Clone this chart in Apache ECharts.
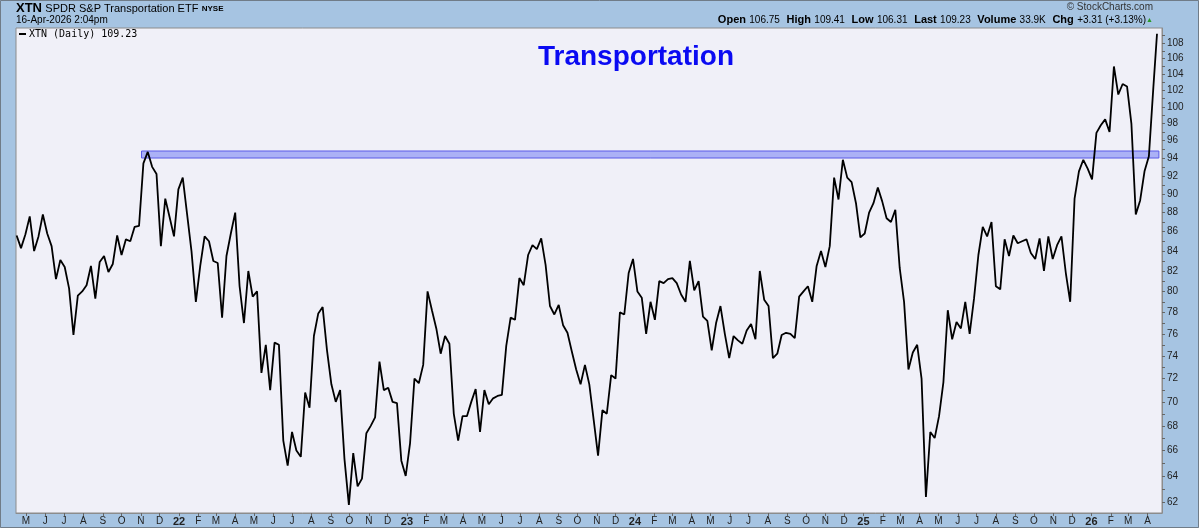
<!DOCTYPE html>
<html>
<head>
<meta charset="utf-8">
<script src="https://cdn.jsdelivr.net/npm/echarts@6/dist/echarts.min.js"></script>
<style>
html,body{margin:0;padding:0;background:#a6c4e2;}
#chart{width:1199px;height:528px;}
</style>
</head>
<body>
<div id="chart"></div>
<script>
// ---- data (weekly closes, Fridays from firstWeek) ----
const firstWeek = '2021-04-16';
const closes = [
85.6,84.3,85.7,87.6,84.0,85.5,87.8,85.8,84.5,81.2,
83.1,82.4,80.3,75.9,79.6,80.0,80.6,82.5,79.3,82.9,
83.5,81.9,82.7,85.6,83.6,85.2,85.0,86.5,86.6,93.4,
94.7,93.0,92.2,84.5,89.5,87.5,85.5,90.5,91.8,87.8,
84.0,79.0,82.5,85.5,85.0,83.0,82.8,77.5,83.5,85.8,
88.0,80.5,77.0,82.0,79.5,80.0,72.5,75.0,71.0,75.2,
75.0,66.8,64.8,67.5,66.0,65.5,70.8,69.5,75.8,77.9,
78.5,74.5,71.5,70.0,71.0,65.3,61.8,65.8,63.2,63.8,
67.4,68.0,68.7,73.5,71.0,71.2,70.0,69.9,65.2,64.0,
66.6,72.0,71.6,73.2,80.0,78.2,76.5,74.2,75.8,75.1,
69.0,66.8,68.8,68.8,70.0,71.1,67.5,71.0,69.8,70.3,
70.5,70.6,74.9,77.5,77.3,81.3,80.6,83.6,84.6,84.2,
85.3,82.6,78.6,77.8,78.7,76.8,76.1,74.4,72.8,71.5,
73.2,71.5,68.5,65.6,69.3,69.0,72.3,72.0,78.0,77.8,
81.8,83.2,80.0,79.4,76.0,79.0,77.3,81.0,80.8,81.2,
81.3,80.8,79.7,79.0,83.0,80.1,81.0,77.6,77.2,74.5,
77.0,78.6,76.0,73.8,75.8,75.4,75.1,76.3,76.9,75.5,
82.0,79.2,78.6,73.8,74.2,75.9,76.1,76.0,75.6,79.5,
80.0,80.5,79.0,82.5,84.0,82.4,84.5,91.8,89.4,93.8,
91.8,91.3,89.0,85.4,85.8,88.0,89.0,90.7,89.2,87.4,
87.0,88.3,82.3,79.0,72.8,74.3,75.0,72.0,62.4,67.5,
67.0,68.8,71.7,78.2,75.5,77.1,76.5,79.0,76.0,79.3,
83.6,86.5,85.5,87.0,80.5,80.2,85.2,83.5,85.6,84.8,
85.0,85.2,83.8,83.2,85.3,82.0,85.5,83.2,84.6,85.5,
81.8,79.0,89.5,92.5,93.8,92.8,91.6,96.9,97.8,98.5,
97.0,105.0,101.5,102.8,102.5,98.0,87.8,89.3,92.5,94.2,
102.2
];
const lastDate = '2026-04-16';
const lastClose = 109.23;

// resistance band
const bandStart = '2021-11-02';
const bandEnd = '2026-04-19';
const bandLow = 94.0;
const bandHigh = 94.8;

// axis ticks / labels
const yTicks = [62,64,66,68,70,72,74,76,78,80,82,84,86,88,90,92,94,96,98,100,102,104,106,108];
const yMinorTicks = [62,63,64,65,66,67,68,69,70,71,72,73,74,75,76,77,78,79,80,81,82,83,84,85,86,87,88,89,90,91,92,93,94,95,96,97,98,99,100,101,102,103,104,105,106,107,108,109];
const xTickMonths = [
'2021-05','2021-06','2021-07','2021-08','2021-09','2021-10','2021-11','2021-12',
'2022-01','2022-02','2022-03','2022-04','2022-05','2022-06','2022-07','2022-08','2022-09','2022-10','2022-11','2022-12',
'2023-01','2023-02','2023-03','2023-04','2023-05','2023-06','2023-07','2023-08','2023-09','2023-10','2023-11','2023-12',
'2024-01','2024-02','2024-03','2024-04','2024-05','2024-06','2024-07','2024-08','2024-09','2024-10','2024-11','2024-12',
'2025-01','2025-02','2025-03','2025-04','2025-05','2025-06','2025-07','2025-08','2025-09','2025-10','2025-11','2025-12',
'2026-01','2026-02','2026-03','2026-04'
];
const monthLetters = ['J','F','M','A','M','J','J','A','S','O','N','D'];
const xMin = '2021-04-15';
const xMax = '2026-04-24';

// ---- build ----
function ts(s){ const p = s.split('-').map(Number); return Date.UTC(p[0], p[1]-1, p[2] || 1); }
const DAY = 86400000;
const t0 = ts(firstWeek);
const seriesData = closes.map((v,i)=>[t0 + i*7*DAY, v]);
seriesData.push([ts(lastDate), lastClose]);
const tickTimes = xTickMonths.map(ts);

const FONT = "'Liberation Sans', Arial, sans-serif";
const chart = echarts.init(document.getElementById('chart'), null, {renderer:'canvas'});
const option = {
  animation: false,
  backgroundColor: '#a6c4e2',
  textStyle: {fontFamily: FONT},
  grid: {left:16, right:37, top:28, bottom:15, show:true, backgroundColor:'#f0f0f8', borderColor:'#8c8c8c', borderWidth:1},
  xAxis: {
    type:'value', min: ts(xMin), max: ts(xMax), scale:true,
    axisLine:{show:true, lineStyle:{color:'#8c8c8c'}},
    axisTick:{show:true, customValues: tickTimes, length:3, lineStyle:{color:'#666'}},
    axisLabel:{
      customValues: tickTimes, margin:3, fontSize:10, color:'#222', fontFamily: FONT,
      formatter: function(v){
        const d = new Date(v); const m = d.getUTCMonth();
        if (m === 0) return '{y|' + String(d.getUTCFullYear()).slice(2) + '}';
        return monthLetters[m];
      },
      rich:{y:{fontWeight:'bold', fontSize:11, color:'#222', fontFamily: FONT}}
    },
    splitLine:{show:false}
  },
  yAxis: {
    type:'log', position:'right', min:61.2, max:110,
    axisLine:{show:true, lineStyle:{color:'#8c8c8c'}},
    axisTick:{show:true, customValues: yMinorTicks, length:3, lineStyle:{color:'#666'}},
    axisLabel:{customValues: yTicks, margin:5, fontSize:10, color:'#222', fontFamily: FONT},
    splitLine:{show:false}
  },
  series: [{
    type:'line', data: seriesData, showSymbol:false, symbol:'none',
    lineStyle:{color:'#000', width:1.8}, z:3,
    markArea:{
      silent:true,
      itemStyle:{color:'rgba(125,135,245,0.6)', borderColor:'#5a5ae8', borderWidth:1},
      data:[[{xAxis: ts(bandStart), yAxis: bandHigh},{xAxis: ts(bandEnd), yAxis: bandLow}]]
    }
  }],
  graphic: [
    {type:'rect', shape:{x:0.5,y:0.5,width:1198,height:527}, style:{fill:null, stroke:'#707c88', lineWidth:1}, silent:true},
    {type:'text', left:16, top:2, style:{
      text:'{t|XTN} {s|SPDR S&P Transportation ETF} {e|NYSE}',
      rich:{
        t:{fontFamily:FONT, fontWeight:'bold', fontSize:13, fill:'#000'},
        s:{fontFamily:FONT, fontSize:11, fill:'#000'},
        e:{fontFamily:FONT, fontWeight:'bold', fontSize:8, fill:'#000'}
      }}},
    {type:'text', left:16, top:15, style:{text:'16-Apr-2026 2:04pm', fontFamily:FONT, fontSize:10, fill:'#000'}},
    {type:'text', right:46, top:2, style:{text:'\u00A9 StockCharts.com', fontFamily:FONT, fontSize:10, fill:'#333'}},
    {type:'text', right:46, top:14, style:{
      text:'{b|Open} {n|106.75}  {b|High} {n|109.41}  {b|Low} {n|106.31}  {b|Last} {n|109.23}  {b|Volume} {n|33.9K}  {b|Chg} {n|+3.31 (+3.13%)}{g|\u25B2}',
      rich:{
        b:{fontFamily:FONT, fontWeight:'bold', fontSize:11, fill:'#000'},
        n:{fontFamily:FONT, fontSize:10, fill:'#000'},
        g:{fontFamily:FONT, fontSize:7, fill:'#2a9a2a'}
      }}},
    {type:'line', shape:{x1:19,y1:34,x2:26,y2:34}, style:{stroke:'#000', lineWidth:2}},
    {type:'text', left:29, top:29, style:{text:'XTN (Daily) 109.23', fontFamily:"'DejaVu Sans Mono', monospace", fontSize:10, fill:'#000'}},
    {type:'text', x:636, y:57, style:{text:'Transportation', font:"bold 28px 'Liberation Sans', Arial, sans-serif", fill:'#0a0af2', align:'center', verticalAlign:'middle', textAlign:'center', textVerticalAlign:'middle'}}
  ]
};
chart.setOption(option);
</script>
</body>
</html>
